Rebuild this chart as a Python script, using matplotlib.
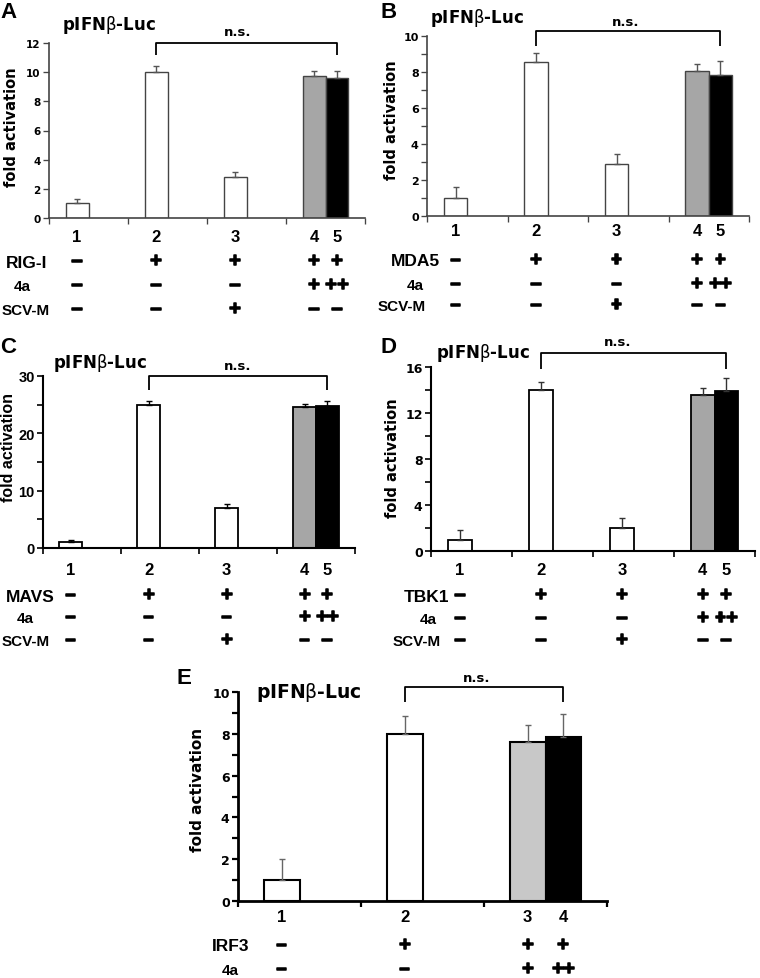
import matplotlib
matplotlib.use('Agg')
import matplotlib.pyplot as plt
import matplotlib.patheffects as pe
import matplotlib.transforms as mtrans

W, H = 760, 979

# bar values (last one is the second series bar in the last group)
a_vals = [1.0, 10.0, 2.8, 9.75, 9.6]
a_err = [0.3, 0.4, 0.35, 0.3, 0.5]
b_vals = [1.0, 8.55, 2.9, 8.05, 7.85]
b_err = [0.6, 0.5, 0.55, 0.4, 0.75]
c_vals = [1.0, 25.0, 7.0, 24.6, 24.8]
c_err = [0.4, 0.6, 0.6, 0.5, 0.8]
d_vals = [1.0, 14.0, 2.0, 13.6, 13.9]
d_err = [0.8, 0.7, 0.9, 0.6, 1.1]
e_vals = [1.0, 8.0, 7.6, 7.85]
e_err = [1.0, 0.87, 0.8, 1.1]

lanes5 = ['1', '2', '3', '4', '5']
lanes4 = ['1', '2', '3', '4']
scvm = ['–', '–', '+', '–', '–']
fa = ['–', '–', '–', '+', '++']
plus = ['–', '+', '+', '+', '+']
e_irf3 = ['–', '+', '+', '+']
e_4a = ['–', '–', '+', '++']

bw = 0.29
fig = plt.figure(figsize=(W / 100, H / 100), dpi=100)

VER = 'DejaVu Sans'
ARI = 'Liberation Sans'


def ftext(x, y, s, **kw):
    kw.setdefault('fontweight', 'bold')
    fig.text(x / W, 1 - y / H, s, **kw)


def panel(box, vals, errs, colors, top, major, minor, edge, lw, ecol, spw,
          tfont, tfs, brk, rows, lanes, nums_y):
    l, r, t, b = box
    ax = fig.add_axes([l / W, 1 - b / H, (r - l) / W, (b - t) / H])
    n = len(vals) - 1
    xs = [i - bw / 2 for i in range(n)] + [n - 1 + bw / 2]
    ax.bar(xs, vals, bw, color=colors, edgecolor=edge, linewidth=lw, zorder=2)
    ax.errorbar(xs, vals, yerr=[[0] * len(vals), errs], fmt='none',
                ecolor=ecol, elinewidth=1, capsize=2, capthick=1, zorder=3)
    ax.set_xlim(-0.5, n - 0.5)
    ax.set_ylim(0, top)
    for s in ['top', 'right']:
        ax.spines[s].set_visible(False)
    for s in ['left', 'bottom']:
        ax.spines[s].set_linewidth(spw)
        ax.spines[s].set_color(edge)
    ax.set_xticks([i - 0.5 for i in range(n + 1)])
    ax.set_xticklabels([])
    ax.set_yticks(major)
    ax.set_yticklabels([str(v) for v in major], fontfamily=tfont,
                       fontsize=tfs, fontweight='bold')
    if minor:
        ax.set_yticks(minor, minor=True)
    ax.tick_params(axis='both', which='both', direction='out', length=4,
                   width=spw * 0.8, color=edge, pad=2)
    # n.s. bracket between lane 2 and last lane
    yb, yd = brk
    x1, x2 = xs[1], xs[-1]
    ax.plot([x1, x1, x2, x2], [yd, yb, yb, yd], color='black', lw=1.3,
            clip_on=False, solid_capstyle='butt')
    tr = mtrans.blended_transform_factory(ax.transData, fig.transFigure)
    for x, s in zip(xs, lanes):
        ax.text(x, 1 - nums_y / H, s, transform=tr, ha='center', va='center',
                fontsize=12, fontweight='bold', fontfamily=ARI)
    for name, nx, ny, nfs, signs in rows:
        ftext(nx, ny, name, ha='center', va='center', fontsize=nfs,
              fontfamily=ARI)
        for x, s in zip(xs, signs):
            ax.text(x, 1 - ny / H, s, transform=tr, ha='center',
                    va='center', fontsize=14, fontweight='bold',
                    fontfamily=ARI,
                    path_effects=[pe.withStroke(linewidth=1.1,
                                                foreground='black')])
    return ax


fills5 = ['white', 'white', 'white', '#a6a6a6', 'black']
title = r'pIFN$\mathrm{\beta}$-Luc'

# A
panel((49, 365, 44, 219), a_vals, a_err, fills5, 12, [0, 2, 4, 6, 8, 10, 12],
      None, '#444444', 1.0, '#555555', 1.2, VER, 7.5, (12, 11.15),
      [('RIG-I', 27, 263, 12.5, plus), ('4a', 22, 287, 11, fa),
       ('SCV-M', 26, 311, 11, scvm)], lanes5, 237)
ftext(62, 25, title, fontsize=12, fontfamily=VER, va='center')
ftext(238, 33, 'n.s.', fontsize=9.5, fontfamily=VER, ha='center', va='center')
ftext(12, 127, 'fold activation', fontsize=10.5, fontfamily=VER, rotation=90,
      ha='center', va='center')
ftext(0, 18, 'A', fontsize=16, fontfamily=ARI, fontweight='heavy',
      va='baseline')

# B
panel((427, 749, 37, 217), b_vals, b_err, fills5, 10, [0, 2, 4, 6, 8, 10],
      [1, 3, 5, 7, 9], '#444444', 1.0, '#555555', 1.2, VER, 8, (10.28, 9.45),
      [('MDA5', 415, 262, 12.5, plus), ('4a', 415, 286, 11, fa),
       ('SCV-M', 402, 307, 11, scvm)], lanes5, 232)
ftext(430, 18, title, fontsize=12, fontfamily=VER, va='center')
ftext(626, 22, 'n.s.', fontsize=9.5, fontfamily=VER, ha='center', va='center')
ftext(391, 120, 'fold activation', fontsize=10.5, fontfamily=VER, rotation=90,
      ha='center', va='center')
ftext(380, 18, 'B', fontsize=16, fontfamily=ARI, fontweight='heavy',
      va='baseline')

# C
panel((43, 355, 377, 549), c_vals, c_err, fills5, 30, [0, 10, 20, 30],
      [5, 15, 25], 'black', 1.3, 'black', 1.5, ARI, 10.5, (30, 27.6),
      [('MAVS', 30, 597, 12.5, plus), ('4a', 25, 619, 11, fa),
       ('SCV-M', 26, 642, 11, scvm)], lanes5, 571)
ftext(53, 363, title, fontsize=12, fontfamily=VER, va='center')
ftext(238, 367, 'n.s.', fontsize=9.5, fontfamily=VER, ha='center', va='center')
ftext(9, 448, 'fold activation', fontsize=11.5, fontfamily=ARI, rotation=90,
      ha='center', va='center')
ftext(0, 353, 'C', fontsize=16, fontfamily=ARI, fontweight='heavy',
      va='baseline')

# D
panel((431, 755, 368, 552), d_vals, d_err, fills5, 16, [0, 4, 8, 12, 16],
      [2, 6, 10, 14], 'black', 1.3, '#333333', 1.5, VER, 9, (17.2, 15.8),
      [('TBK1', 426, 597, 12.5, plus), ('4a', 428, 620, 11, fa),
       ('SCV-M', 417, 642, 11, scvm)], lanes5, 571)
ftext(436, 353, title, fontsize=12, fontfamily=VER, va='center')
ftext(618, 343, 'n.s.', fontsize=9.5, fontfamily=VER, ha='center', va='center')
ftext(392, 458, 'fold activation', fontsize=10.5, fontfamily=VER, rotation=90,
      ha='center', va='center')
ftext(381, 353, 'D', fontsize=16, fontfamily=ARI, fontweight='heavy',
      va='baseline')

# E
panel((238, 607, 693, 902), e_vals, e_err,
      ['white', 'white', '#c8c8c8', 'black'], 10, [0, 2, 4, 6, 8, 10],
      [1, 3, 5, 7, 9], 'black', 1.5, '#666666', 2.0, VER, 9, (10.22, 9.5),
      [('IRF3', 231, 947, 12.5, e_irf3), ('4a', 230, 971, 11, e_4a)],
      lanes4, 918)
ftext(256, 693, title, fontsize=13.5, fontfamily=VER, va='center')
ftext(477, 678, 'n.s.', fontsize=9.5, fontfamily=VER, ha='center', va='center')
ftext(198, 790, 'fold activation', fontsize=11, fontfamily=VER, rotation=90,
      ha='center', va='center')
ftext(176, 684, 'E', fontsize=16, fontfamily=ARI, fontweight='heavy',
      va='baseline')

fig.savefig('out.png', dpi=100)
